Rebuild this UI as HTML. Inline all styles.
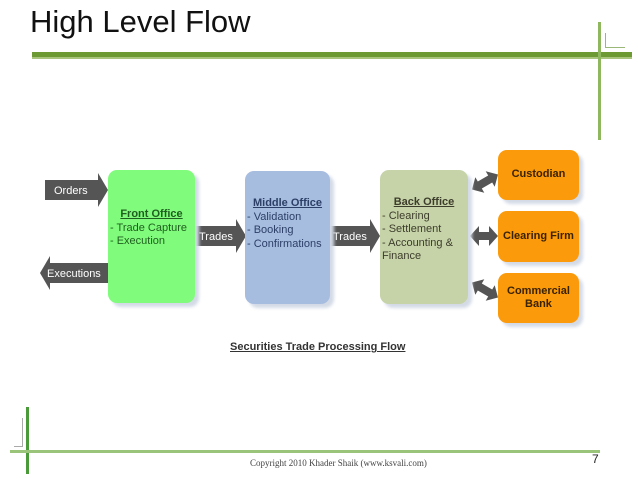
<!DOCTYPE html>
<html><head><style>
body{margin:0;width:638px;height:479px;background:#fff;position:relative;overflow:hidden;font-family:"Liberation Sans",sans-serif}
.a{position:absolute}
.box{position:absolute;border-radius:9px;box-shadow:4px 4px 3px #d4dbe6;font-size:11px;line-height:13.5px;padding:2px}
.h{font-weight:bold;text-decoration:underline;text-align:center;display:block}
.or{background:#fb9a0a;color:#3a2200;font-weight:bold;font-size:11px;text-align:center;display:flex;align-items:center;justify-content:center}
</style></head><body>
<div class="a" style="left:30px;top:4px;font-size:31px;color:#111">High Level Flow</div>
<div class="a" style="left:32px;top:52px;width:600px;height:5px;background:#6e9a34"></div>
<div class="a" style="left:32px;top:57px;width:600px;height:2px;background:#a9c47d"></div>
<div class="a" style="left:598px;top:22px;width:3px;height:118px;background:#8fb85e"></div>
<div class="a" style="left:605px;top:33px;width:1px;height:15px;background:#9ab978"></div>
<div class="a" style="left:605px;top:47px;width:20px;height:1px;background:#9ab978"></div>

<svg class="a" style="left:0;top:0" width="638" height="479">
<g fill="#555">
<polygon points="45,180 98,180 98,173 108,190 98,207 98,200 45,200"/>
<polygon points="108,263 50,263 50,256 40,273 50,290 50,283 108,283"/>
<polygon points="195,226 236,226 236,219 246,236 236,253 236,246 195,246"/>
<polygon points="330,226 370,226 370,219 380,236 370,253 370,246 330,246"/>
<polygon transform="translate(485,182) rotate(-30)" points="-15,0 -6,-9 -6,-4 6,-4 6,-9 15,0 6,9 6,4 -6,4 -6,9"/>
<polygon transform="translate(484,236)" points="-14,0 -5,-10 -5,-4 5,-4 5,-10 14,0 5,10 5,4 -5,4 -5,10"/>
<polygon transform="translate(485,290) rotate(30)" points="-15,0 -6,-9 -6,-4 6,-4 6,-9 15,0 6,9 6,4 -6,4 -6,9"/>
</g>
<g fill="#fff" font-size="11" font-family="Liberation Sans,sans-serif">
<text x="54" y="194">Orders</text>
<text x="47" y="277">Executions</text>
<text x="199" y="240">Trades</text>
<text x="333" y="240">Trades</text>
</g>
</svg>

<div class="box" style="left:108px;top:170px;width:83px;background:#80fb7c;color:#1f5f1f;padding-top:38px;height:93px"><span class="h">Front Office</span>- Trade Capture<br>- Execution</div>
<div class="box" style="left:245px;top:171px;width:81px;background:#a7bde0;color:#2c3f66;padding-top:26px;height:105px"><span class="h">Middle Office</span>- Validation<br>- Booking<br>- Confirmations</div>
<div class="box" style="left:380px;top:170px;width:84px;background:#c6d3a8;color:#3d3d2c;padding-top:26px;height:106px"><span class="h">Back Office</span>- Clearing<br>- Settlement<br>- Accounting &amp;<br>Finance</div>
<div class="box or" style="left:498px;top:150px;width:77px;height:46px">Custodian</div>
<div class="box or" style="left:498px;top:211px;width:77px;height:47px">Clearing Firm</div>
<div class="box or" style="left:498px;top:273px;width:77px;height:46px">Commercial<br>Bank</div>

<div class="a" style="left:230px;top:341px;font-size:11px;font-weight:bold;text-decoration:underline;color:#333">Securities Trade Processing Flow</div>

<div class="a" style="left:26px;top:407px;width:3px;height:67px;background:#4a9a3a"></div>
<div class="a" style="left:22px;top:418px;width:1px;height:28px;background:#aaa"></div>
<div class="a" style="left:14px;top:446px;width:9px;height:1px;background:#aaa"></div>
<div class="a" style="left:10px;top:450px;width:590px;height:3px;background:#9ac47a"></div>
<div class="a" style="left:250px;top:458px;font-size:9px;font-family:'Liberation Serif',serif;color:#444">Copyright 2010 Khader Shaik (www.ksvali.com)</div>
<div class="a" style="left:592px;top:452px;font-size:12px;color:#222">7</div>
</body></html>
